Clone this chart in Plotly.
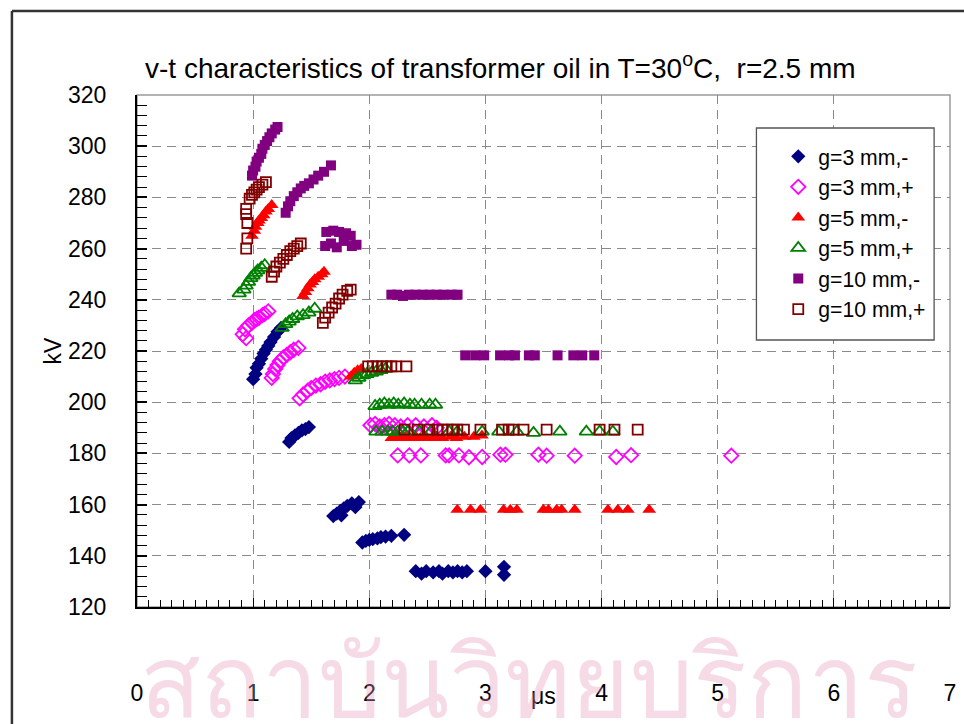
import plotly.graph_objects as go

# Breakdown time (us) and breakdown voltage (kV) for each gap / polarity
g3_neg_t = [1.00, 1.02, 1.03, 1.05, 1.07, 1.09, 1.11, 1.13, 1.15, 1.18, 1.21, 1.24,
            1.31, 1.33, 1.36, 1.39, 1.42, 1.45, 1.48,
            1.69, 1.72, 1.75, 1.76, 1.78, 1.81, 1.85, 1.88, 1.91,
            1.94, 1.97, 2.00, 2.03, 2.07, 2.10, 2.14, 2.19, 2.30,
            2.40, 2.45, 2.49, 2.55, 2.60, 2.63, 2.68, 2.72, 2.76, 2.80, 2.84, 3.00, 3.16, 3.16]
g3_neg_kv = [209, 211, 213.5, 215, 217, 219, 220.5, 222, 223.5, 225.5, 227.5, 229,
             184.5, 186, 187, 188, 189, 189.5, 190.3,
             155.5, 156.5, 157.5, 155.8, 158.5, 159.5, 160.5, 159, 161,
             145.2, 145.8, 146.2, 146.5, 146.8, 147.3, 147.5, 147.8, 148.2,
             134, 133, 134, 133.5, 134, 133, 134, 133.5, 134, 133.5, 134, 134, 135.7, 132.6]

g3_pos_t = [0.91, 0.94, 0.93, 0.96, 0.99, 1.01, 1.03, 1.05, 1.08, 1.10, 1.13,
            1.16, 1.17, 1.19, 1.21, 1.23, 1.26, 1.29, 1.32, 1.35, 1.39,
            1.40, 1.43, 1.47, 1.50, 1.54, 1.58, 1.62, 1.66, 1.70, 1.74, 1.79,
            2.01, 2.05, 2.09, 2.13, 2.17, 2.22, 2.27, 2.33, 2.40, 2.47, 2.54, 2.58,
            2.245, 2.345, 2.444, 2.658, 2.687, 2.772, 2.858, 2.972, 3.129, 3.172,
            3.456, 3.527, 3.769, 4.126, 4.254, 5.117]
g3_pos_kv = [226.5, 225, 228.5, 230, 231, 232, 232.5, 233, 234, 234.5, 235.5,
             209.5, 211, 213, 214.5, 216, 217.5, 218.5, 219.5, 220.5, 221.2,
             201.5, 203, 204.5, 205.5, 206.5, 207, 208, 208.5, 209, 209.5, 210,
             191, 191.5, 190.5, 191, 191.5, 191, 190.5, 191, 191, 190.5, 191, 190,
             179.2, 179.2, 179.2, 179.2, 179.2, 179.2, 178.5, 178.6, 179.5, 179.5,
             179.5, 179.1, 179.1, 178.6, 179.3, 179.1]

g5_neg_t = [0.99, 1.01, 1.02, 1.04, 1.05, 1.07, 1.09, 1.11, 1.13, 1.16,
            1.43, 1.45, 1.47, 1.49, 1.51, 1.53, 1.56, 1.59, 1.61,
            1.84, 1.87, 1.90, 1.93,
            2.19, 2.23, 2.27, 2.31, 2.35, 2.40, 2.44, 2.49, 2.54, 2.58, 2.63, 2.70, 2.75, 2.82, 2.90, 2.97,
            2.758, 2.872, 2.957, 3.157, 3.214, 3.271, 3.499, 3.542, 3.613, 3.656, 3.769,
            4.055, 4.140, 4.226, 4.410]
g5_neg_kv = [265, 267, 268.5, 270, 271, 272, 273, 274.5, 275.5, 277,
             241.5, 243, 244.5, 246, 247, 248, 249, 250, 251,
             210, 211.5, 212.5, 213,
             186, 186.5, 186, 186.5, 186, 186.5, 186, 186.5, 186, 186.5, 186, 186.5, 186, 186.5, 186.5, 187,
             158, 158, 158, 158, 158, 158, 158, 158, 158, 158, 158,
             158, 158, 158, 158]

g5_pos_t = [0.88, 0.92, 0.94, 0.96, 0.98, 1.00, 1.02, 1.04, 1.07, 1.10,
            1.25, 1.28, 1.31, 1.34, 1.38, 1.43, 1.48, 1.53,
            1.88, 1.91, 1.95, 1.98, 2.02, 2.06, 2.10, 2.14,
            2.05, 2.09, 2.13, 2.17, 2.21, 2.25, 2.30, 2.35, 2.39, 2.45, 2.52, 2.57,
            2.057, 2.11, 2.16, 2.20, 2.245, 2.29, 2.331, 2.431, 2.530, 2.687, 2.758, 2.972,
            3.115, 3.271, 3.414, 3.641, 3.869, 3.983, 4.097]
g5_pos_kv = [242.5, 244, 245.5, 247, 248.5, 249.5, 250.5, 251.5, 252.5, 253.5,
             229, 230.5, 231.5, 232.5, 233.5, 234, 235, 236.5,
             208.5, 209.5, 210.5, 211, 211.5, 212, 212.5, 213,
             198.5, 199, 199.5, 199, 199.5, 199, 199.5, 199, 199, 199, 199, 199,
             188.5, 188.5, 188.5, 188.5, 188.5, 188.5, 188.5, 188.5, 188.5, 188.5, 188.5, 188.5,
             188.5, 188.5, 188, 188.5, 188.5, 188.5, 188.5]

g10_neg_t = [0.99, 1.00, 1.02, 1.03, 1.05, 1.07, 1.08, 1.10, 1.12, 1.14, 1.16, 1.19, 1.21,
             1.28, 1.30, 1.32, 1.35, 1.38, 1.41, 1.44, 1.48, 1.52, 1.56, 1.61, 1.67,
             1.63, 1.69, 1.74, 1.80, 1.84, 1.62, 1.67, 1.72, 1.78, 1.85, 1.89,
             2.19, 2.24, 2.29, 2.34, 2.40, 2.46, 2.52, 2.58, 2.64, 2.71, 2.76,
             2.826, 2.912, 2.989, 3.126, 3.203, 3.254, 3.374, 3.425, 3.621, 3.757, 3.834, 3.937]
g10_neg_kv = [288.5, 290.5, 292, 294, 295.5, 297, 299, 300.5, 302, 303.5, 305, 306.5, 307.5,
              274, 276.5, 278.5, 280.5, 282, 283.5, 284.5, 285.5, 287, 288.5, 290, 292.5,
              266.5, 267, 266.5, 266, 265, 261, 262, 260.5, 263, 261, 261.5,
              242, 242, 241.5, 242, 242, 242, 242, 242, 242, 242, 242,
              218.3, 218.3, 218.3, 218.3, 218.3, 218.3, 218.3, 218.3, 218.3, 218.3, 218.3, 218.3]

g10_pos_t = [0.94, 0.95, 0.95, 0.94, 0.94, 0.97, 0.99, 1.01, 1.03, 1.05, 1.08, 1.11,
             1.16, 1.18, 1.20, 1.23, 1.26, 1.29, 1.32, 1.35, 1.38, 1.41,
             1.60, 1.62, 1.65, 1.68, 1.71, 1.74, 1.77, 1.81, 1.84,
             1.99, 2.03, 2.07, 2.11, 2.15, 2.19, 2.23, 2.32,
             2.303, 2.416, 2.516, 2.587, 2.630, 2.673, 2.715, 2.758, 2.815, 2.957,
             3.143, 3.200, 3.243, 3.328, 3.527, 3.983, 4.111, 4.311]
g10_pos_kv = [260, 264, 270, 273.5, 275.5, 279.5, 281, 282, 283, 284, 285, 286,
              249, 251, 253, 254.5, 256, 257.5, 259, 260, 261, 262,
              231, 233, 235, 237, 238.5, 240.5, 242, 243.5, 244,
              214, 214, 214, 214, 214, 214, 214, 214,
              189.3, 189.3, 189.3, 189.3, 189.3, 189.3, 189.3, 189.3, 189.3, 189.3,
              189.3, 189.3, 189.3, 189.3, 189.3, 189.3, 189.3, 189.3]

series = [
    ("g=3 mm,-", g3_neg_t, g3_neg_kv, "diamond", "#000080", 11),
    ("g=3 mm,+", g3_pos_t, g3_pos_kv, "diamond-open", "#FF00FF", 11),
    ("g=5 mm,-", g5_neg_t, g5_neg_kv, "triangle-up", "#FF0000", 12),
    ("g=5 mm,+", g5_pos_t, g5_pos_kv, "triangle-up-open", "#008000", 12),
    ("g=10 mm,-", g10_neg_t, g10_neg_kv, "square", "#800080", 10),
    ("g=10 mm,+", g10_pos_t, g10_pos_kv, "square-open", "#800000", 10),
]

FONT = "Liberation Sans, Arial, sans-serif"

fig = go.Figure()
for i, (name, t, kv, sym, col, size) in enumerate(series):
    fig.add_trace(go.Scatter(
        x=t, y=kv, mode="markers", name=name, legendgroup=f"g{i}",
        marker=dict(symbol=sym, color=col, size=size,
                    line=dict(color=col, width=1.8 if "open" in sym else 0)),
    ))

grid = dict(showgrid=True, gridcolor="#8a8a8a", gridwidth=1.3, griddash="9px,6px")

fig.update_layout(
    width=964, height=724, autosize=False,
    margin=dict(l=137, r=8, t=95, b=117),
    paper_bgcolor="white", plot_bgcolor="white",
    font=dict(family=FONT, size=23, color="black"),
    title=dict(text="v-t characteristics of transformer oil in T=30<sup>o</sup>C,  r=2.5 mm",
               x=145 / 964, xanchor="left", y=1 - 68 / 724, yanchor="middle",
               font=dict(family=FONT, size=28, color="black")),
    xaxis=dict(range=[0, 7], tick0=0, dtick=1, **grid, zeroline=False,
               showline=True, linecolor="black", linewidth=2,
               ticks="inside", ticklen=9, tickwidth=1.2, tickcolor="black",
               minor=dict(dtick=0.1, ticks="inside", ticklen=7, tickcolor="black",
                          tickwidth=1, showgrid=False),
               ticklabelstandoff=64, tickfont=dict(size=23)),
    yaxis=dict(range=[120, 320], tick0=120, dtick=20, **grid, zeroline=False,
               showline=True, linecolor="black", linewidth=2,
               ticks="inside", ticklen=10, tickwidth=2, tickcolor="black",
               minor=dict(dtick=4, ticks="inside", ticklen=10, tickcolor="black",
                          tickwidth=1, showgrid=False),
               ticklabelstandoff=24, tickfont=dict(size=23),
               title=dict(text="kV", standoff=0, font=dict(size=23))),
    legend=dict(x=(783 - 137) / 819, xanchor="left", y=(607 - 136) / 512, yanchor="top",
                bgcolor="rgba(0,0,0,0)", borderwidth=0, tracegroupgap=0,
                font=dict(family=FONT, size=21.2, color="black")),
    showlegend=True,
)

# x axis title sits level with the tick numbers
fig.add_annotation(text="μs", xref="paper", yref="paper", x=0.5, y=(607 - 696) / 512,
                   xanchor="center", yanchor="middle", showarrow=False,
                   font=dict(family=FONT, size=23, color="black"))

# gray border of the plotting area (top/right)
fig.add_shape(type="rect", xref="paper", yref="paper", x0=0, x1=1, y0=0, y1=1,
              line=dict(color="#9a9a9a", width=1.5), layer="below")
# outer page frame: only its top and left edges fall inside the page
frame_left = (11 - 137) / 819
frame_top = (607 - 11) / 512
fig.add_shape(type="line", xref="paper", yref="paper",
              x0=frame_left, x1=1.2, y0=frame_top, y1=frame_top,
              line=dict(color="#333333", width=2.5), layer="below")
fig.add_shape(type="line", xref="paper", yref="paper",
              x0=frame_left, x1=frame_left, y0=frame_top, y1=-0.4,
              line=dict(color="#333333", width=2.5), layer="below")
# legend box
fig.add_shape(type="rect", xref="paper", yref="paper",
              x0=(761 - 137) / 819, x1=(940 - 137) / 819,
              y0=(607 - 340) / 512, y1=(607 - 128) / 512,
              line=dict(color="#555555", width=1.3), fillcolor="white", layer="above")

# faint institute watermark across the bottom of the page
fig.add_annotation(text="สถาบันวิทยบริการ", xref="paper", yref="paper",
                   x=(532 - 137) / 819, y=(607 - 678) / 512, showarrow=False,
                   xanchor="center", yanchor="middle",
                   font=dict(size=100, color="rgba(228,150,182,0.35)", family="Noto Sans, DejaVu Sans"))

fig.write_html(
    "out.html",
    config={"displayModeBar": False},
    post_script="document.documentElement.style.overflow='hidden';"
                "document.body.style.overflow='hidden';document.body.style.margin='0';"
                "document.querySelectorAll('div').forEach(function(d){d.style.overflow='hidden';});",
)
